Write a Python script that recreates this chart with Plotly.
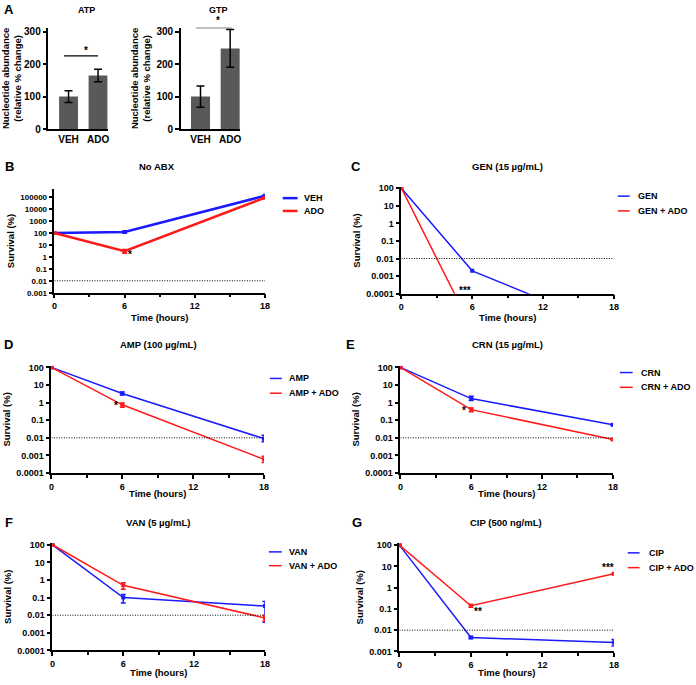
import plotly.graph_objects as go
import numpy as np

W, H = 696, 685
FONT = "Liberation Sans, Arial, sans-serif"
BLUE = "#1a1aff"
RED = "#ff1a1a"
BARC = "#595959"

# ---------------- Data ----------------
bar_categories = ["VEH", "ADO"]
atp_mean = [100, 165]
atp_err = [18, 19]
gtp_mean = [100, 248]
gtp_err = [33, 58]

time_h = [0, 6, 18]

# B: No ABX
veh_mean = [100, 120, 130000]
veh_lo = [100, 100, 110000]
veh_hi = [100, 140, 150000]
ado_mean = [100, 3.0, 90000]
ado_lo = [100, 2.0, 80000]
ado_hi = [100, 4.2, 100000]

# C: GEN
gen_mean = [100, 0.002, 1e-6]
gen_ado_mean = [100, 1e-6, 1e-6]

# D: AMP
amp_mean = [100, 3.3, 0.009]
amp_lo = [100, 2.7, 0.006]
amp_hi = [100, 4.0, 0.014]
amp_ado_mean = [100, 0.75, 0.0006]
amp_ado_lo = [100, 0.55, 0.0004]
amp_ado_hi = [100, 0.95, 0.0009]

# E: CRN
crn_mean = [100, 1.7, 0.055]
crn_lo = [100, 1.3, 0.05]
crn_hi = [100, 2.3, 0.06]
crn_ado_mean = [100, 0.4, 0.008]
crn_ado_lo = [100, 0.3, 0.0075]
crn_ado_hi = [100, 0.5, 0.0085]

# F: VAN
van_mean = [100, 0.1, 0.033]
van_lo = [100, 0.05, 0.004]
van_hi = [100, 0.15, 0.06]
van_ado_mean = [100, 0.5, 0.007]
van_ado_lo = [100, 0.3, 0.0045]
van_ado_hi = [100, 0.7, 0.01]

# G: CIP
cip_mean = [100, 0.0045, 0.0026]
cip_lo = [100, 0.004, 0.0018]
cip_hi = [100, 0.005, 0.0036]
cip_ado_mean = [100, 0.14, 4.5]
cip_ado_lo = [100, 0.12, 4.2]
cip_ado_hi = [100, 0.16, 4.8]

detection_limit = 0.01

log_ticks_B = [0.001, 0.01, 0.1, 1, 10, 100, 1000, 10000, 100000]
log_ticks_4 = [0.0001, 0.001, 0.01, 0.1, 1, 10, 100]
log_ticks_G = [0.001, 0.01, 0.1, 1, 10, 100]
x_ticks = [0, 6, 12, 18]
x_minor = [3, 9, 15]


def fmt(v):
    s = ("%f" % v).rstrip("0").rstrip(".")
    return s


def xd(a, b):
    return [a / W, b / W]


def yd(top, bottom):
    return [1 - bottom / H, 1 - top / H]


def px(x, y):
    return x / W, 1 - y / H


fig = go.Figure()

axis_common = dict(showline=True, linecolor="black", linewidth=1.5, ticks="outside",
                   tickcolor="black", tickwidth=1.5, ticklen=4, showgrid=False, zeroline=False,
                   tickfont=dict(family=FONT, size=9, color="black", weight="bold"))

# ---------- Panel A ----------
for i, (mean, err, xa) in enumerate([(atp_mean, atp_err, "x"), (gtp_mean, gtp_err, "x2")]):
    ya = "y" if i == 0 else "y2"
    fig.add_trace(go.Bar(x=bar_categories, y=mean, xaxis=xa, yaxis=ya, width=0.64,
                         marker=dict(color=BARC, line=dict(width=0)),
                         error_y=dict(type="data", array=err, color="black", thickness=1.5, width=4),
                         showlegend=False))

fig.update_layout(
    xaxis=dict(domain=xd(46, 106), anchor="y", type="category", range=[-0.68, 1.33], **axis_common),
    yaxis=dict(domain=yd(24, 127), anchor="x", range=[0, 312], tickvals=[0, 100, 200, 300], **axis_common),
    xaxis2=dict(domain=xd(180, 240), anchor="y2", type="category", range=[-0.66, 1.34], **axis_common),
    yaxis2=dict(domain=yd(24, 127), anchor="x2", range=[0, 312], tickvals=[0, 100, 200, 300], **axis_common),
)
fig.layout.xaxis.ticks = ""
fig.layout.xaxis2.ticks = ""
fig.layout.xaxis.tickfont.size = 10
fig.layout.xaxis2.tickfont.size = 10
fig.layout.yaxis.tickfont.size = 10
fig.layout.yaxis2.tickfont.size = 10

shapes = []
annotations = []

# significance bars in A
shapes.append(dict(type="line", xref="x", yref="y", x0=-0.15, x1=1.0, y0=225, y1=225,
                   line=dict(color="black", width=1.2)))
ax_, ay_ = px(80, 47)
annotations.append(dict(xref="paper", yref="paper", x=ax_, y=ay_, text="<b>*</b>", showarrow=False,
                        yanchor="middle", font=dict(family=FONT, size=10, color="black")))
shapes.append(dict(type="line", xref="x2", yref="y2", x0=-0.15, x1=1.05, y0=312, y1=312,
                   line=dict(color="black", width=1.2)))
ax_, ay_ = px(213, 17)
annotations.append(dict(xref="paper", yref="paper", x=ax_, y=ay_, text="<b>*</b>", showarrow=False,
                        yanchor="middle", font=dict(family=FONT, size=10, color="black")))

ylab_A = "<b>Nucleotide abundance<br>(relative % change)</b>"
fig.layout.yaxis.title = dict(text=ylab_A, font=dict(family=FONT, size=9.5, color="black"), standoff=4)
fig.layout.yaxis2.title = dict(text=ylab_A, font=dict(family=FONT, size=9.5, color="black"), standoff=4)

# ---------- Survival panels ----------
panels = [
    dict(n=3, box=(52, 265, 188, 293), yr=[-3, 5.66], yt=log_ticks_B, title="No ABX",
         letter=(7, 165, "B"), tpos=(156, 165), xt_y=318, lw=2.5, tfs=8,
         series=[("VEH", BLUE, veh_mean, veh_lo, veh_hi), ("ADO", RED, ado_mean, ado_lo, ado_hi)],
         leg=(283, 298, 302, 197, 210)),
    dict(n=4, box=(403, 618, 186, 294), yr=[-4, 2.05], yt=log_ticks_4, title="GEN (15 µg/mL)",
         letter=(357, 165, "C"), tpos=(510, 165), xt_y=318, lw=1.5, tfs=9,
         series=[("GEN", BLUE, gen_mean, None, None), ("GEN + ADO", RED, gen_ado_mean, None, None)],
         leg=(622, 634, 640, 195, 210)),
    dict(n=5, box=(49, 264, 367, 476), yr=[-4, 2.1], yt=log_ticks_4, title="AMP (100 µg/mL)",
         letter=(6, 346, "D"), tpos=(157, 346), xt_y=497, lw=1.5, tfs=9,
         series=[("AMP", BLUE, amp_mean, amp_lo, amp_hi), ("AMP + ADO", RED, amp_ado_mean, amp_ado_lo, amp_ado_hi)],
         leg=(270, 282, 287, 380, 395)),
    dict(n=6, box=(402, 617, 367, 476), yr=[-4, 2.1], yt=log_ticks_4, title="CRN (15 µg/mL)",
         letter=(352, 346, "E"), tpos=(510, 346), xt_y=497, lw=1.5, tfs=9,
         series=[("CRN", BLUE, crn_mean, crn_lo, crn_hi), ("CRN + ADO", RED, crn_ado_mean, crn_ado_lo, crn_ado_hi)],
         leg=(624, 637, 643, 374, 389)),
    dict(n=7, box=(50, 265, 547, 656), yr=[-4, 2.1], yt=log_ticks_4, title="VAN (5 µg/mL)",
         letter=(6, 526, "F"), tpos=(157, 526), xt_y=678, lw=1.5, tfs=9,
         series=[("VAN", BLUE, van_mean, van_lo, van_hi), ("VAN + ADO", RED, van_ado_mean, van_ado_lo, van_ado_hi)],
         leg=(269, 282, 287, 556, 570)),
    dict(n=8, box=(401, 618, 547, 657), yr=[-3, 2.1], yt=log_ticks_G, title="CIP (500 ng/mL)",
         letter=(358, 526, "G"), tpos=(509, 526), xt_y=678, lw=1.5, tfs=9,
         series=[("CIP", BLUE, cip_mean, cip_lo, cip_hi), ("CIP + ADO", RED, cip_ado_mean, cip_ado_lo, cip_ado_hi)],
         leg=(632, 644, 651, 557, 572)),
]

for p in panels:
    n = p["n"]
    xa, ya = "x%d" % n, "y%d" % n
    l, r, t, b = p["box"]
    for name, col, mean, lo, hi in p["series"]:
        err = None
        if lo is not None:
            err = dict(type="data", symmetric=False,
                       array=[h - m for h, m in zip(hi, mean)],
                       arrayminus=[m - q for m, q in zip(mean, lo)],
                       color=col, thickness=1.5, width=2.5)
        fig.add_trace(go.Scatter(x=time_h, y=mean, xaxis=xa, yaxis=ya, mode="lines+markers",
                                 line=dict(color=col, width=p["lw"]),
                                 marker=dict(color=col, size=4, symbol="square"),
                                 error_y=err, showlegend=False, name=name, cliponaxis=True))
    # detection limit line
    fig.add_trace(go.Scatter(x=[0, 18], y=[detection_limit, detection_limit], xaxis=xa, yaxis=ya,
                             mode="lines", line=dict(color="black", width=1, dash="1px,1.5px"),
                             showlegend=False, hoverinfo="skip"))
    xc = dict(axis_common)
    yc = dict(axis_common)
    yc["tickfont"] = dict(family=FONT, size=p["tfs"], color="black", weight="bold")
    fig.layout["xaxis%d" % n] = dict(domain=xd(l, r), anchor=ya, range=[0, 18], tickvals=x_ticks,
                                     minor=dict(tickvals=x_minor, ticks="outside", ticklen=3,
                                                tickwidth=1.5, tickcolor="black"),
                                     **xc)
    fig.layout["yaxis%d" % n] = dict(domain=yd(t, b), anchor=xa, type="log", range=p["yr"],
                                     tickvals=p["yt"], ticktext=[fmt(v) for v in p["yt"]],
                                     **yc)
    fig.layout["yaxis%d" % n].title = dict(text="<b>Survival (%)</b>",
                                           font=dict(family=FONT, size=9.5, color="black"), standoff=4)
    # x title
    tx, ty = px((l + r) / 2, p["xt_y"])
    annotations.append(dict(xref="paper", yref="paper", x=tx, y=ty,
                            text="<b>Time (hours)</b>", showarrow=False, xanchor="center", yanchor="middle",
                            font=dict(family=FONT, size=9.5, color="black")))
    # title
    tx, ty = px(*p["tpos"])
    annotations.append(dict(xref="paper", yref="paper", x=tx, y=ty,
                            text="<b>%s</b>" % p["title"], showarrow=False, xanchor="center", yanchor="middle",
                            font=dict(family=FONT, size=9.5, color="black")))
    # letter
    lx, ly, lt = p["letter"]
    tx, ty = px(lx, ly)
    annotations.append(dict(xref="paper", yref="paper", x=tx, y=ty,
                            text="<b>%s</b>" % lt, showarrow=False, xanchor="center", yanchor="middle",
                            font=dict(family=FONT, size=13, color="black")))
    # legend
    x0, x1, xt, y1, y2 = p["leg"]
    for (name, col, *_), yy in zip(p["series"], [y1, y2]):
        shapes.append(dict(type="line", xref="paper", yref="paper", x0=x0 / W, x1=x1 / W,
                           y0=1 - yy / H, y1=1 - yy / H, line=dict(color=col, width=p["lw"])))
        annotations.append(dict(xref="paper", yref="paper", x=xt / W, y=1 - yy / H,
                                text="<b>%s</b>" % name, showarrow=False, xanchor="left", yanchor="middle",
                                font=dict(family=FONT, size=9, color="black")))

# panel A letter/titles
for (x_, y_, txt, sz) in [(6, 6, "A", 13), (84, 6, "ATP", 9), (218, 6, "GTP", 9)]:
    tx, ty = px(x_, y_)
    annotations.append(dict(xref="paper", yref="paper", x=tx, y=ty, text="<b>%s</b>" % txt, showarrow=False,
                            xanchor="center", yanchor="middle", font=dict(family=FONT, size=sz, color="black")))

# significance stars in survival panels (data coords; log axis uses log10)
stars = [
    ("x3", "y3", 6.5, 1.6, "*"),
    ("x4", "y4", 5.4, 0.00016, "***"),
    ("x5", "y5", 5.5, 0.65, "*"),
    ("x5", "y5", 18.6, 0.0005, "*"),
    ("x6", "y6", 5.4, 0.35, "*"),
    ("x6", "y6", 18.8, 0.0075, "**"),
    ("x8", "y8", 6.6, 0.075, "**"),
    ("x8", "y8", 17.5, 8.5, "***"),
]
for xa, ya, sx, sy, st in stars:
    annotations.append(dict(xref=xa, yref=ya, x=sx, y=np.log10(sy), text="<b>%s</b>" % st,
                            showarrow=False, xanchor="center", yanchor="middle",
                            font=dict(family=FONT, size=10, color="black")))

fig.update_layout(width=W, height=H, margin=dict(l=0, r=0, t=0, b=0),
                  paper_bgcolor="white", plot_bgcolor="white",
                  shapes=shapes, annotations=annotations, showlegend=False,
                  font=dict(family=FONT, color="black"))

fig.write_html("out.html", config={"displayModeBar": False},
               post_script="document.body.style.margin='0px';")
